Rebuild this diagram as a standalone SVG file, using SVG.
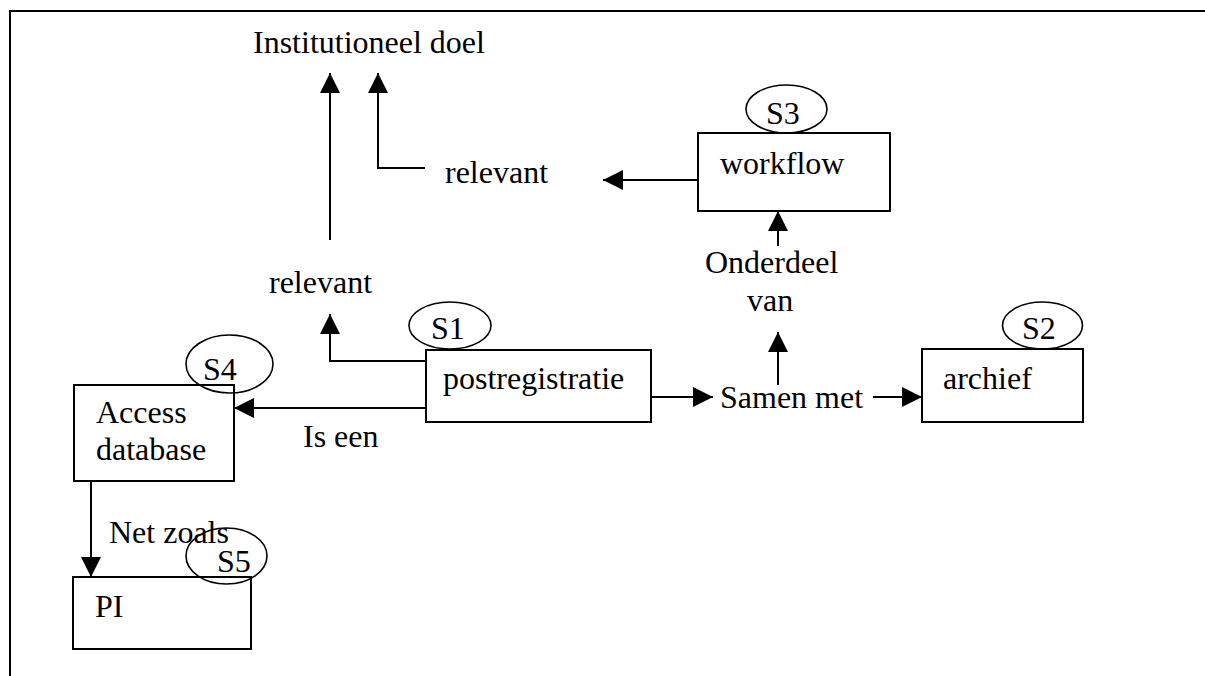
<svg xmlns="http://www.w3.org/2000/svg" width="1205" height="676" viewBox="0 0 1205 676">
  <style>
    text { font-family: "Liberation Serif", "Times New Roman", serif; font-size: 32px; fill: #000; }
    .box { fill: none; stroke: #000; stroke-width: 2; }
    .tag { fill: none; stroke: #000; stroke-width: 1.6; }
    .link { fill: none; stroke: #000; stroke-width: 2; marker-end: url(#head); }
    .frame { fill: none; stroke: #000; stroke-width: 2; }
  </style>
  <defs>
    <marker id="head" markerUnits="userSpaceOnUse" markerWidth="20" markerHeight="20" refX="20" refY="10" orient="auto" viewBox="0 0 20 20">
      <path d="M0,0 L20,10 L0,20 z" fill="#000"/>
    </marker>
  </defs>
  <rect width="1205" height="676" fill="#fff"/>

  <!-- page frame -->
  <path class="frame" d="M10,676 L10,11 L1205,11"/>

  <!-- free-standing labels -->
  <g id="goal"><text x="253" y="53">Institutioneel doel</text></g>
  <g id="label-relevant-top"><text x="445" y="183">relevant</text></g>
  <g id="label-relevant-low"><text x="269" y="293">relevant</text></g>
  <g id="label-onderdeel"><text x="705" y="273">Onderdeel</text><text x="747" y="311">van</text></g>
  <g id="label-samen"><text x="720" y="408">Samen met</text></g>
  <g id="label-iseen"><text x="303" y="447">Is een</text></g>
  <g id="label-netzoals"><text x="109" y="543">Net zoals</text></g>

  <!-- nodes -->
  <g id="workflow">
    <rect class="box" x="698" y="133" width="192" height="78"/>
    <text x="720" y="174">workflow</text>
    <ellipse class="tag" cx="786.5" cy="109" rx="40.5" ry="24"/>
    <text x="766" y="124">S3</text>
  </g>
  <g id="postregistratie">
    <rect class="box" x="426" y="350" width="225" height="72"/>
    <text x="443" y="389">postregistratie</text>
    <ellipse class="tag" cx="450" cy="325.5" rx="41" ry="23.5"/>
    <text x="431" y="339">S1</text>
  </g>
  <g id="archief">
    <rect class="box" x="922" y="349" width="161" height="73"/>
    <text x="943" y="389">archief</text>
    <ellipse class="tag" cx="1042.5" cy="325.5" rx="40" ry="23.5"/>
    <text x="1022" y="339">S2</text>
  </g>
  <g id="access">
    <rect class="box" x="74" y="385" width="160" height="96"/>
    <text x="96" y="423">Access</text>
    <text x="96" y="460">database</text>
    <ellipse class="tag" cx="229.5" cy="364" rx="43.5" ry="29"/>
    <text x="203" y="380">S4</text>
  </g>
  <g id="pi">
    <rect class="box" x="73" y="577" width="178" height="72"/>
    <text x="95" y="617">PI</text>
    <ellipse class="tag" cx="226.5" cy="556" rx="40.5" ry="28"/>
    <text x="217" y="572">S5</text>
  </g>

  <!-- connectors -->
  <g id="connectors">
    <path class="link" d="M330,240 L330,73"/>
    <path class="link" d="M425,168 L378,168 L378,73"/>
    <path class="link" d="M698,180 L603,180"/>
    <path class="link" d="M778,246 L778,211"/>
    <path class="link" d="M778,385 L778,332"/>
    <path class="link" d="M651,397 L713,397"/>
    <path class="link" d="M873,397 L922,397"/>
    <path class="link" d="M426,408 L234,408"/>
    <path class="link" d="M426,361 L330,361 L330,314"/>
    <path class="link" d="M91,481 L91,577"/>
  </g>
</svg>
